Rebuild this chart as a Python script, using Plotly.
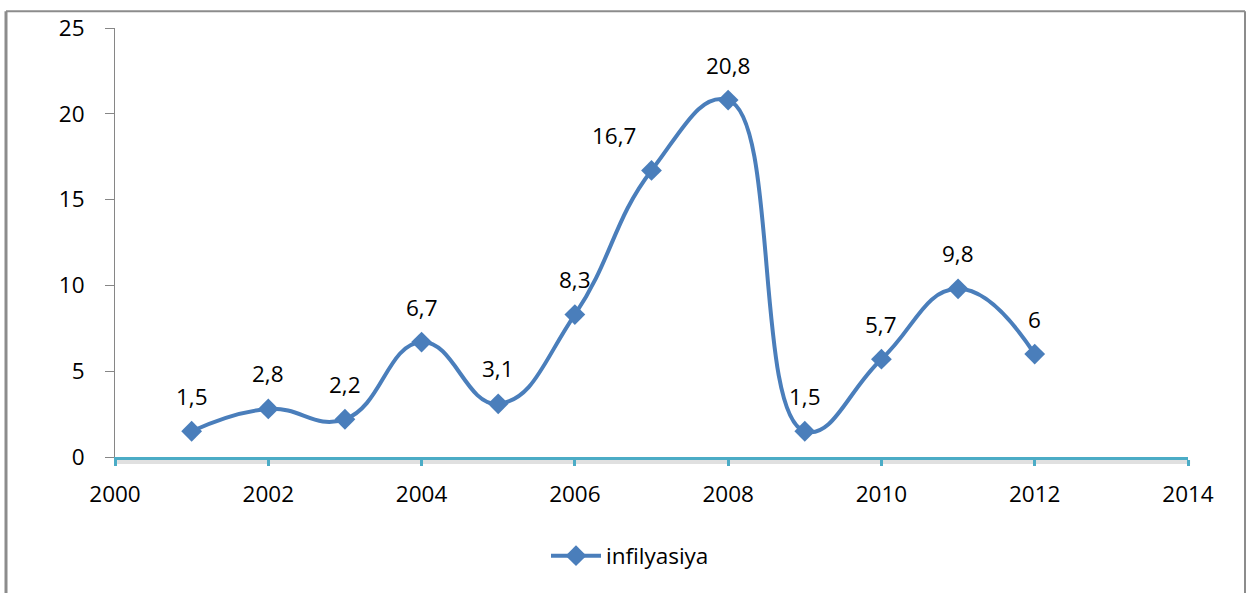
import plotly.graph_objects as go

years = [2001, 2002, 2003, 2004, 2005, 2006, 2007, 2008, 2009, 2010, 2011, 2012]
values = [1.5, 2.8, 2.2, 6.7, 3.1, 8.3, 16.7, 20.8, 1.5, 5.7, 9.8, 6.0]
labels = ["1,5", "2,8", "2,2", "6,7", "3,1", "8,3", "16,7", "20,8", "1,5", "5,7", "9,8", "6"]
label_dx = [0, 0, 0, 0, 0, 0, -38, 0, 0, 0, 0, 0]
series_name = "infilyasiya"

W, H = 1252, 593
ML, MR, MT, MB = 115, 64, 24, 136
pw, ph = W - ML - MR, H - MT - MB

BLUE = "#4a7ebb"
TEAL = "#4bacc6"
FONT = "Open Sans"
FS = 22.5

fig = go.Figure()
fig.add_trace(go.Scatter(
    x=years, y=values, mode="lines+markers", name=series_name,
    line=dict(color=BLUE, width=4, shape="spline", smoothing=1.3),
    marker=dict(symbol="diamond", size=16, color=BLUE),
    cliponaxis=False,
))

annotations = [
    dict(x=x, y=y, text=t, xref="x", yref="y", showarrow=False,
         xshift=dx, yshift=35, font=dict(family=FONT, size=FS, color="#000000"))
    for x, y, t, dx in zip(years, values, labels, label_dx)
]

def px_x(p):
    return (p - ML) / pw

def px_y(p):
    return (H - MB - p) / ph

shapes = [
    dict(type="line", xref="paper", yref="paper", x0=0.002, x1=1.002,
         y0=px_y(H - MB + 5), y1=px_y(H - MB + 5),
         line=dict(color="rgba(0,0,0,0.12)", width=4), layer="below"),
    dict(type="line", xref="paper", yref="paper", x0=px_x(6), x1=px_x(6),
         y0=px_y(7), y1=px_y(H + 5), line=dict(color="#8c8c8c", width=3)),
    dict(type="line", xref="paper", yref="paper", x0=px_x(6), x1=px_x(1245),
         y0=px_y(7), y1=px_y(7), line=dict(color="#8c8c8c", width=2)),
    dict(type="line", xref="paper", yref="paper", x0=px_x(1245), x1=px_x(1245),
         y0=px_y(7), y1=px_y(H + 5), line=dict(color="#8c8c8c", width=2)),
]

fig.update_layout(
    width=W, height=H,
    margin=dict(l=ML, r=MR, t=MT, b=MB, pad=0),
    paper_bgcolor="white", plot_bgcolor="white",
    font=dict(family=FONT, size=FS, color="#000000"),
    showlegend=True,
    legend=dict(orientation="h", x=px_x(630), xanchor="center", y=px_y(557), yanchor="middle",
                font=dict(family=FONT, size=FS), itemwidth=50),
    xaxis=dict(range=[2000, 2014], tickmode="linear", tick0=2000, dtick=2,
               showgrid=False, zeroline=False, showline=True, linecolor=TEAL, linewidth=3,
               ticks="outside", ticklen=6, tickwidth=3, tickcolor=TEAL,
               tickfont=dict(family=FONT, size=FS), ticklabelstandoff=9),
    yaxis=dict(range=[0, 25], tickmode="linear", tick0=0, dtick=5,
               showgrid=False, zeroline=False, showline=True, linecolor="#868686", linewidth=1,
               ticks="outside", ticklen=9, tickwidth=1, tickcolor="#868686",
               tickfont=dict(family=FONT, size=FS), ticklabelstandoff=16),
    shapes=shapes,
    annotations=annotations,
)

fig.write_html("out.html")
